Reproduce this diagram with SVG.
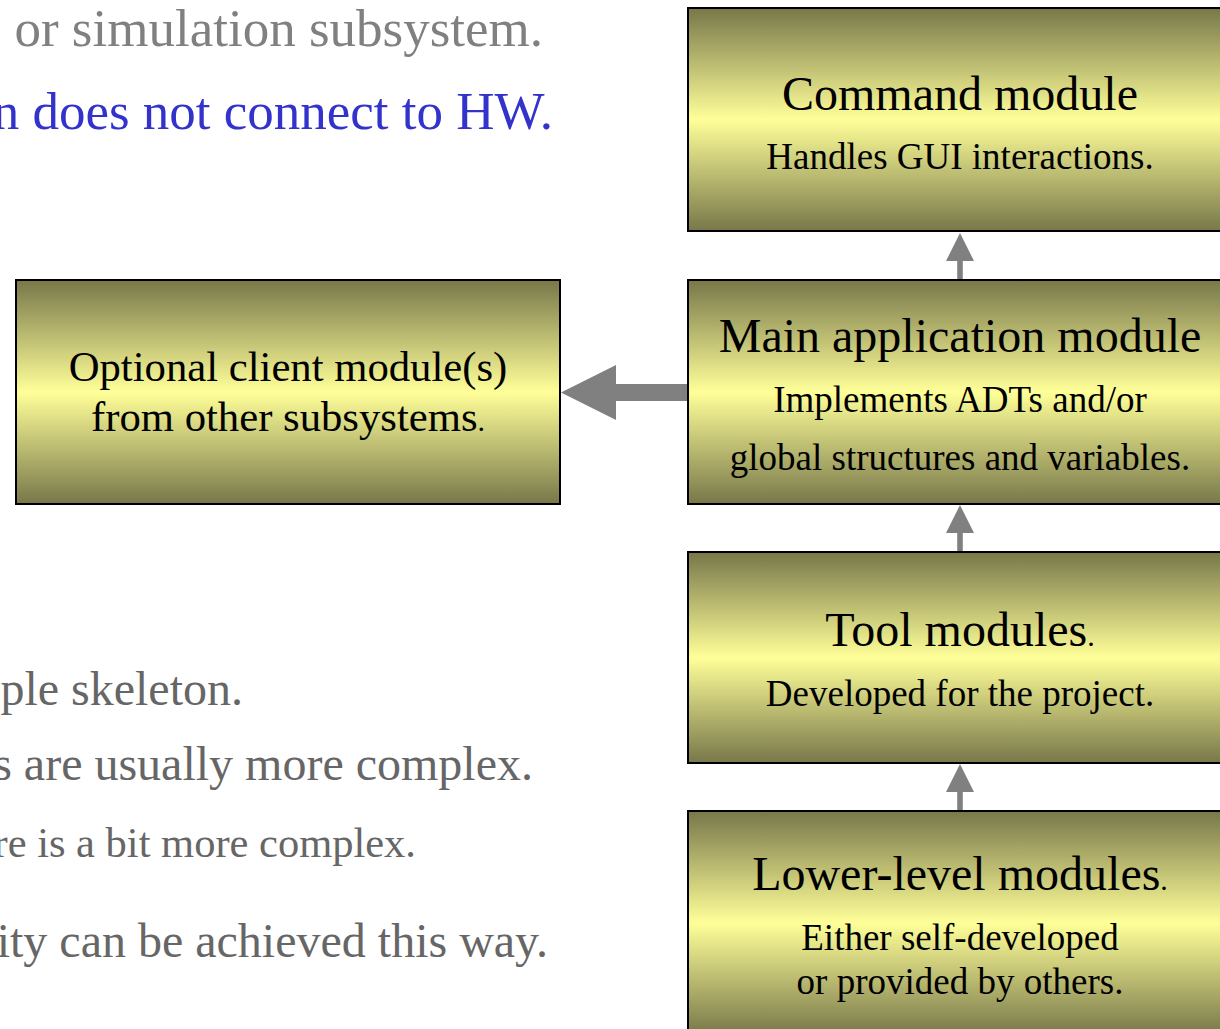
<svg xmlns="http://www.w3.org/2000/svg" width="1220" height="1029" viewBox="0 0 1220 1029">
  <defs>
    <linearGradient id="olive" x1="0" y1="0" x2="0" y2="1">
      <stop offset="0" stop-color="#77774a"/>
      <stop offset="0.5" stop-color="#ffff99"/>
      <stop offset="1" stop-color="#77774a"/>
    </linearGradient>
  </defs>
  <style>
    text { font-family: "Liberation Serif", "Times New Roman", serif; }
    .box { fill: url(#olive); stroke: #000; stroke-width: 2; }
    .title { font-size: 48px; fill: #000; text-anchor: middle; }
    .sub { font-size: 37px; fill: #000; text-anchor: middle; }
    .opt { font-size: 42.7px; fill: #000; text-anchor: middle; }
    .dot { font-size: 30px; }
    .arrow { fill: #808080; }
    .note { text-anchor: end; }
  </style>

  <!-- running text on the left, clipped by the page edge -->
  <g id="notes">
    <text class="note" x="543" y="46" font-size="53" fill="#808080">or simulation subsystem.</text>
    <text class="note" x="553" y="129" font-size="53" fill="#3333cc">n does not connect to HW.</text>
    <text class="note" x="243" y="705" font-size="48" fill="#666666">ple skeleton.</text>
    <text class="note" x="533" y="780" font-size="48" fill="#666666">s are usually more complex.</text>
    <text class="note" x="416" y="857" font-size="42.5" fill="#666666">re is a bit more complex.</text>
    <text class="note" x="548" y="957" font-size="48" fill="#666666">ity can be achieved this way.</text>
  </g>

  <g id="command">
    <rect class="box" x="688" y="8" width="546" height="223"/>
    <text class="title" x="960" y="110">Command module</text>
    <text class="sub" x="960" y="169">Handles GUI interactions.</text>
  </g>

  <g id="main">
    <rect class="box" x="688" y="280" width="546" height="224"/>
    <text class="title" x="960" y="352">Main application module</text>
    <text class="sub" x="960" y="412">Implements ADTs and/or</text>
    <text class="sub" x="960" y="470">global structures and variables.</text>
  </g>

  <g id="optional">
    <rect class="box" x="16" y="280" width="544" height="224"/>
    <text class="opt" x="288" y="381">Optional client module(s)</text>
    <text class="opt" x="288" y="431">from other subsystems<tspan class="dot">.</tspan></text>
  </g>

  <g id="tool">
    <rect class="box" x="688" y="552" width="546" height="211"/>
    <text class="title" x="960" y="646">Tool modules<tspan class="dot">.</tspan></text>
    <text class="sub" x="960" y="706">Developed for the project.</text>
  </g>

  <g id="lower">
    <rect class="box" x="688" y="811" width="546" height="224"/>
    <text class="title" x="960" y="890">Lower-level modules<tspan class="dot">.</tspan></text>
    <text class="sub" x="960" y="950">Either self-developed</text>
    <text class="sub" x="960" y="994">or provided by others.</text>
  </g>

  <g id="connectors">
    <!-- main -> command -->
    <path class="arrow" d="M960,233 L974,261 L962.8,261 L962.8,279 L957.2,279 L957.2,261 L946,261 Z"/>
    <!-- tool -> main -->
    <path class="arrow" d="M960,505 L974,533 L962.8,533 L962.8,551 L957.2,551 L957.2,533 L946,533 Z"/>
    <!-- lower -> tool -->
    <path class="arrow" d="M960,764 L974,792 L962.8,792 L962.8,810 L957.2,810 L957.2,792 L946,792 Z"/>
    <!-- main -> optional client -->
    <path class="arrow" d="M561,392.5 L616,365 L616,384 L687,384 L687,401 L616,401 L616,420 Z"/>
  </g>
</svg>
